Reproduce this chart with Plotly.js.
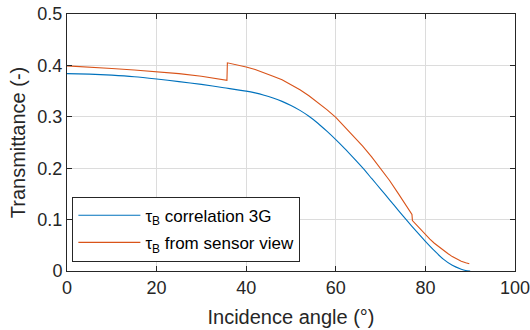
<!DOCTYPE html>
<html>
<head>
<meta charset="utf-8">
<script src="https://cdn.plot.ly/plotly-3.0.1.min.js"></script>
<style>html,body{margin:0;padding:0;background:#fff;}#chart{width:530px;height:330px;}</style>
</head>
<body>
<div id="chart"></div>
<script>
// Incidence angle (deg) and transmittance values
const blueX = [0, 5, 10, 15, 20, 25, 30, 35, 40, 42, 44, 46, 48, 50, 52, 54, 56, 58, 60, 62, 64, 66, 68, 70, 72, 74, 76, 78, 80, 82, 84, 86, 88, 89, 90];
const blueY = [0.384, 0.383, 0.381, 0.378, 0.3735, 0.3685, 0.363, 0.3565, 0.350, 0.3465, 0.342, 0.3365, 0.330, 0.322, 0.3125, 0.301, 0.2875, 0.272, 0.2555, 0.238, 0.2195, 0.2005, 0.180, 0.1595, 0.1385, 0.1175, 0.097, 0.077, 0.0577, 0.0395, 0.023, 0.011, 0.0035, 0.001, 0.0];
const orangeX = [0, 5, 10, 15, 20, 25, 30, 35.7, 35.8, 38, 40, 42, 44, 46, 48, 50, 52, 54, 56, 58, 60, 62, 64, 66, 68, 70, 72, 74, 76, 77.0, 77.1, 78, 79, 80, 81, 82, 83, 84, 85, 86, 87, 88, 89, 89.8];
const orangeY = [0.399, 0.397, 0.394, 0.391, 0.388, 0.384, 0.379, 0.371, 0.405, 0.401, 0.397, 0.392, 0.386, 0.379, 0.372, 0.363, 0.3525, 0.341, 0.328, 0.314, 0.299, 0.281, 0.2625, 0.243, 0.222, 0.200, 0.176, 0.150, 0.123, 0.110, 0.098, 0.0895, 0.080, 0.071, 0.062, 0.054, 0.047, 0.040, 0.034, 0.028, 0.023, 0.019, 0.016, 0.014];
const names = ['τ<sub>B</sub> correlation 3G', 'τ<sub>B</sub> from sensor view'];
const xTicks = [0, 20, 40, 60, 80, 100];
const yTicks = [0, 0.1, 0.2, 0.3, 0.4, 0.5];

const font = 'Liberation Sans, Arial, Helvetica, sans-serif';
const traces = [
  {x: blueX, y: blueY, mode: 'lines', name: names[0], legendgroup: 'a',
   line: {color: '#0072BD', width: 1.1, shape: 'spline', smoothing: 0.6}},
  {x: orangeX, y: orangeY, mode: 'lines', name: names[1], legendgroup: 'b',
   line: {color: '#D95319', width: 1.1}}
];
const axisCommon = {
  showgrid: true, gridcolor: '#dcdcdc', gridwidth: 1,
  showline: true, linecolor: '#262626', linewidth: 1, mirror: 'ticks',
  ticks: 'inside', ticklen: 5, tickcolor: '#262626', tickwidth: 1,
  zeroline: false, tickfont: {family: font, size: 18, color: '#262626'}
};
const layout = {
  width: 530, height: 330,
  margin: {l: 67, r: 15, t: 14, b: 59},
  paper_bgcolor: '#fff', plot_bgcolor: '#fff',
  font: {family: font, color: '#262626'},
  showlegend: true,
  legend: {x: 0.012, y: 0.289, xanchor: 'left', yanchor: 'top',
    bgcolor: '#fff', bordercolor: '#262626', borderwidth: 1, itemwidth: 62,
    font: {family: font, size: 17, color: '#000'}, tracegroupgap: 2, traceorder: 'grouped'},
  xaxis: Object.assign({}, axisCommon, {range: [0, 100], tickvals: xTicks, ticklabeloverflow: 'allow',
    title: {text: 'Incidence angle (°)', font: {family: font, size: 20, color: '#262626'}, standoff: 13}}),
  yaxis: Object.assign({}, axisCommon, {range: [0, 0.5], tickvals: yTicks, ticktext: yTicks.map(String),
    title: {text: 'Transmittance (-)', font: {family: font, size: 20, color: '#262626'}, standoff: 6}})
};
Plotly.newPlot('chart', traces, layout, {displayModeBar: false, staticPlot: true});
</script>
</body>
</html>
